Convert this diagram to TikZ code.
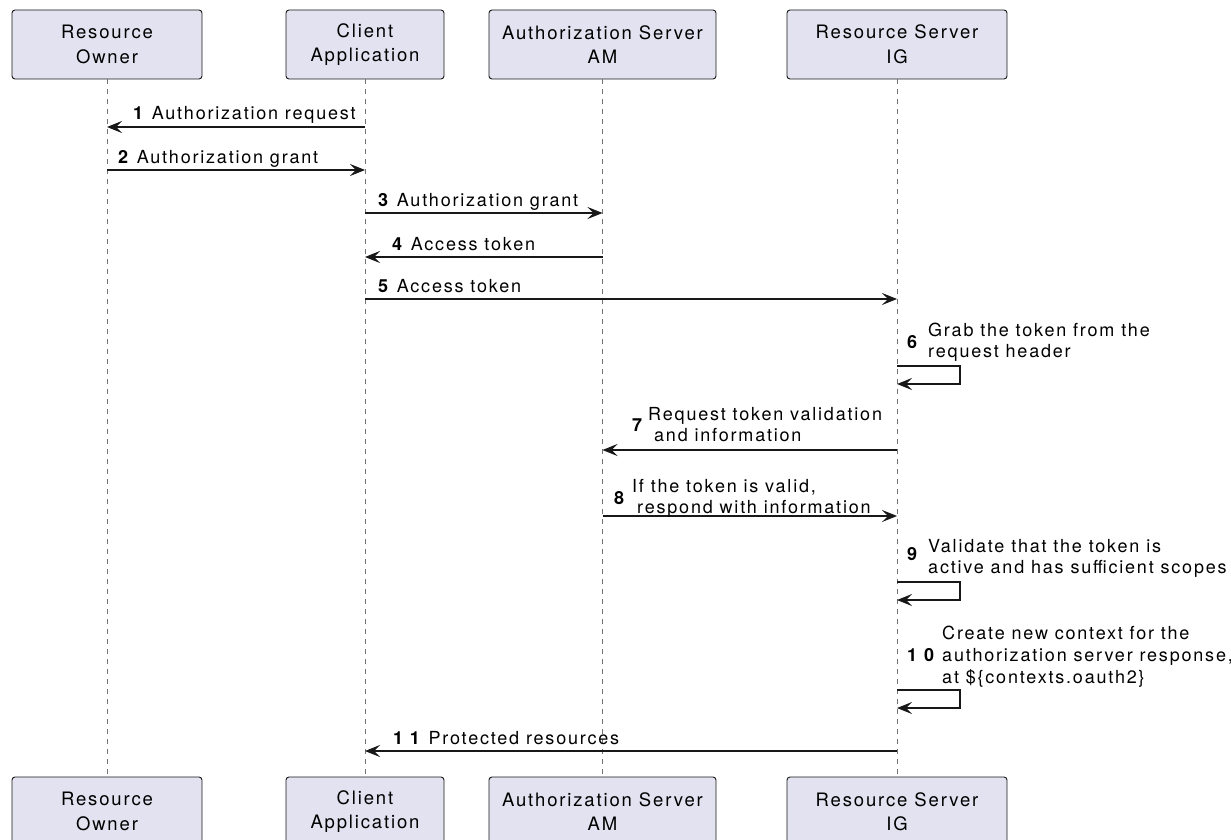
\documentclass[tikz,border=0pt]{standalone}
\usepackage{fontspec}
\setmainfont{TeX Gyre Heros}[LetterSpace=10]
\usetikzlibrary{arrows.meta}
\definecolor{boxfill}{HTML}{E2E2F0}
\definecolor{ink}{HTML}{181818}
\begin{document}
\begin{tikzpicture}[x=1pt,y=-1pt,
 actor/.style={draw=ink, fill=boxfill, rounded corners=3pt, line width=0.9pt, minimum height=69pt, align=center, inner sep=0pt, font=\fontsize{18.5}{24.5}\selectfont},
 life/.style={draw=black!55, line width=0.8pt, dash pattern=on 5pt off 5pt},
 msg/.style={draw=ink, line width=1.1pt, -{Stealth[length=15pt,width=12pt,inset=6pt]}},
 selfmsg/.style={draw=ink, line width=1.1pt, -{Stealth[length=15pt,width=12pt,inset=6pt]}},
 lbl/.style={inner sep=0pt, anchor=base west, font=\fontsize{18}{22}\selectfont},
]
\useasboundingbox (0,0) rectangle (1231,840);
\clip (0,0) rectangle (1231,840);
% actors top
\node[actor, minimum width=190pt] (roT) at (107,44.5) {Resource\\Owner};
\node[actor, minimum width=158pt] (caT) at (365,44.5) {Client\\Application};
\node[actor, minimum width=227pt] (asT) at (602.5,44.5) {Authorization Server\\AM};
\node[actor, minimum width=220pt] (rsT) at (897,44.5) {Resource Server\\IG};
% actors bottom
\node[actor, minimum width=190pt] (roB) at (107,811.5) {Resource\\Owner};
\node[actor, minimum width=158pt] (caB) at (365,811.5) {Client\\Application};
\node[actor, minimum width=227pt] (asB) at (602.5,811.5) {Authorization Server\\AM};
\node[actor, minimum width=220pt] (rsB) at (897,811.5) {Resource Server\\IG};
% lifelines
\draw[life] (roT.south) -- (roB.north);
\draw[life] (caT.south) -- (caB.north);
\draw[life] (asT.south) -- (asB.north);
\draw[life] (rsT.south) -- (rsB.north);
% message heights
\coordinate (y1) at (0,127);
\coordinate (y2) at (0,170);
\coordinate (y3) at (0,213);
\coordinate (y4) at (0,257);
\coordinate (y5) at (0,299);
\coordinate (y6a) at (0,366);
\coordinate (y6b) at (0,384);
\coordinate (y7) at (0,450);
\coordinate (y8) at (0,516);
\coordinate (y9a) at (0,582);
\coordinate (y9b) at (0,600);
\coordinate (y10a) at (0,690);
\coordinate (y10b) at (0,708);
\coordinate (y11) at (0,751);
\coordinate (loopx) at (960,0);
% 1
\draw[msg] (caT |- y1) -- (roT |- y1);
\node[lbl] (l1) at (133,120) {\textbf{1} Authorization request};
% 2
\draw[msg] (roT |- y2) -- (caT |- y2);
\node[lbl] (l2) at (118,163) {\textbf{2} Authorization grant};
% 3
\draw[msg] (caT |- y3) -- (asT |- y3);
\node[lbl] (l3) at (378,206) {\textbf{3} Authorization grant};
% 4
\draw[msg] (asT |- y4) -- (caT |- y4);
\node[lbl] (l4) at (392,250) {\textbf{4} Access token};
% 5
\draw[msg] (caT |- y5) -- (rsT |- y5);
\node[lbl] (l5) at (378,292) {\textbf{5} Access token};
% 6
\draw[selfmsg] (rsT |- y6a) -- (loopx |- y6a) -- (loopx |- y6b) -- (rsT |- y6b);
\node[lbl] (n6) at (907,348) {\textbf{6}};
\node[lbl] (l6a) at (928,336) {Grab the token from the};
\node[lbl] (l6b) at (928,357) {request header};
% 7
\draw[msg] (rsT |- y7) -- (asT |- y7);
\node[lbl] (n7) at (632,431) {\textbf{7}};
\node[lbl] (l7a) at (648,420) {Request token validation};
\node[lbl] (l7b) at (654,441) {and information};
% 8
\draw[msg] (asT |- y8) -- (rsT |- y8);
\node[lbl] (n8) at (614,504) {\textbf{8}};
\node[lbl] (l8a) at (632,492) {If the token is valid,};
\node[lbl] (l8b) at (637,513) {respond with information};
% 9
\draw[selfmsg] (rsT |- y9a) -- (loopx |- y9a) -- (loopx |- y9b) -- (rsT |- y9b);
\node[lbl] (n9) at (907,560) {\textbf{9}};
\node[lbl] (l9a) at (928,552) {Validate that the token is};
\node[lbl] (l9b) at (928,573) {active and has sufficient scopes};
% 10
\draw[selfmsg] (rsT |- y10a) -- (loopx |- y10a) -- (loopx |- y10b) -- (rsT |- y10b);
\node[lbl] (n10) at (907,661) {\textbf{1 0}};
\node[lbl] (l10a) at (942,639) {Create new context for the};
\node[lbl] (l10b) at (942,661) {authorization server response,};
\node[lbl] (l10c) at (942,683) {at \$\{contexts.oauth2\}};
% 11
\draw[msg] (rsT |- y11) -- (caT |- y11);
\node[lbl] (l11) at (393,744) {\textbf{1 1} Protected resources};
\end{tikzpicture}
\end{document}
